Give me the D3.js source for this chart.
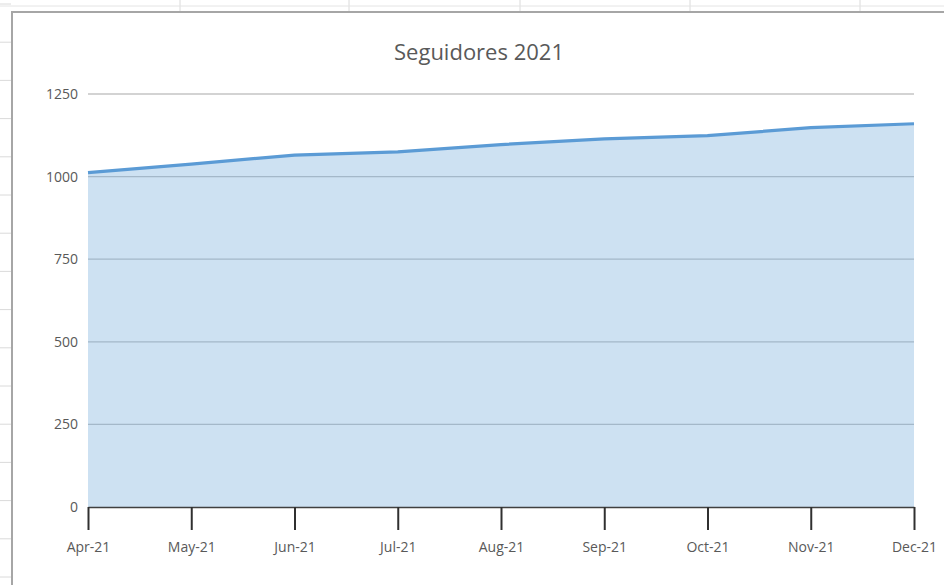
<!DOCTYPE html>
<html>
<head>
<meta charset="utf-8">
<script src="https://cdn.jsdelivr.net/npm/d3@7"></script>
<style>
  html, body { margin: 0; padding: 0; background: #fff; }
  svg { display: block; }
</style>
</head>
<body>
<svg id="chart" width="944" height="585"></svg>
<script>
// Monthly followers, 2021
const months = ["Apr-21", "May-21", "Jun-21", "Jul-21", "Aug-21", "Sep-21", "Oct-21", "Nov-21", "Dec-21"];
const followers = [1012, 1038, 1065, 1075, 1097, 1114, 1124, 1148, 1160];
const yTicks = [0, 250, 500, 750, 1000, 1250];
const chartTitle = "Seguidores 2021";

const svg = d3.select("#chart");
const W = 944, H = 585;
const font = "'Open Sans', 'Liberation Sans', sans-serif";
const textColor = "#595959";

// Worksheet cells behind the chart object
const sheet = svg.append("g");
sheet.append("rect").attr("width", W).attr("height", H).attr("fill", "#ffffff");
const rowLines = d3.range(4, H, 38.2);
sheet.selectAll("line.row").data(rowLines).join("line")
  .attr("x1", 0).attr("x2", 11).attr("y1", d => d).attr("y2", d => d)
  .attr("stroke", "#dadada").attr("stroke-width", 1);
const colLines = [180, 349, 520, 690, 860];
sheet.selectAll("line.col").data(colLines).join("line")
  .attr("x1", d => d).attr("x2", d => d).attr("y1", 0).attr("y2", 12)
  .attr("stroke", "#dadada").attr("stroke-width", 1);
sheet.append("line").attr("x1", 0).attr("x2", W).attr("y1", 6).attr("y2", 6)
  .attr("stroke", "#e4e4e4").attr("stroke-width", 1);

// Chart area frame
svg.append("rect")
  .attr("x", 12).attr("y", 12).attr("width", W + 10).attr("height", H + 10)
  .attr("fill", "#ffffff").attr("stroke", "#a6a6a6").attr("stroke-width", 2);

const x = d3.scalePoint().domain(months).range([88, 914]);
const y = d3.scaleLinear().domain([0, 1250]).range([507, 94]);

// Horizontal gridlines
svg.append("g").selectAll("line").data(yTicks.filter(d => d > 0)).join("line")
  .attr("x1", 88).attr("x2", 914)
  .attr("y1", d => y(d)).attr("y2", d => y(d))
  .attr("stroke", "#c4c4c4").attr("stroke-width", 1.3);

// Y tick labels
svg.append("g").selectAll("text").data(yTicks).join("text")
  .attr("x", 78).attr("y", d => y(d))
  .attr("dy", "0.35em")
  .attr("text-anchor", "end")
  .attr("font-family", font).attr("font-size", 14)
  .attr("fill", textColor)
  .text(d => d);

const data = months.map((m, i) => ({ m, v: followers[i] }));

// Filled area
const area = d3.area().x(d => x(d.m)).y0(y(0)).y1(d => y(d.v));
svg.append("path").datum(data)
  .attr("d", area)
  .attr("fill", "#5b9bd5").attr("fill-opacity", 0.3);

// Series line on top of the area
const line = d3.line().x(d => x(d.m)).y(d => y(d.v));
svg.append("path").datum(data)
  .attr("d", line)
  .attr("fill", "none").attr("stroke", "#5b9bd5")
  .attr("stroke-width", 3.2).attr("stroke-linejoin", "round");

// Category axis
const xAxis = d3.axisBottom(x).tickSize(23).tickSizeOuter(0).tickPadding(12);
const gx = svg.append("g").attr("transform", `translate(0,${y(0)})`).call(xAxis);
gx.select(".domain").attr("stroke", "#404040").attr("stroke-width", 1.6);
gx.selectAll(".tick line").attr("stroke", "#303030").attr("stroke-width", 2);
gx.selectAll(".tick text")
  .attr("font-family", font).attr("font-size", 14)
  .attr("fill", textColor);

// Title
svg.append("text")
  .attr("x", 479).attr("y", 60)
  .attr("text-anchor", "middle")
  .attr("font-family", font).attr("font-size", 22)
  .attr("fill", textColor)
  .text(chartTitle);
</script>
</body>
</html>
